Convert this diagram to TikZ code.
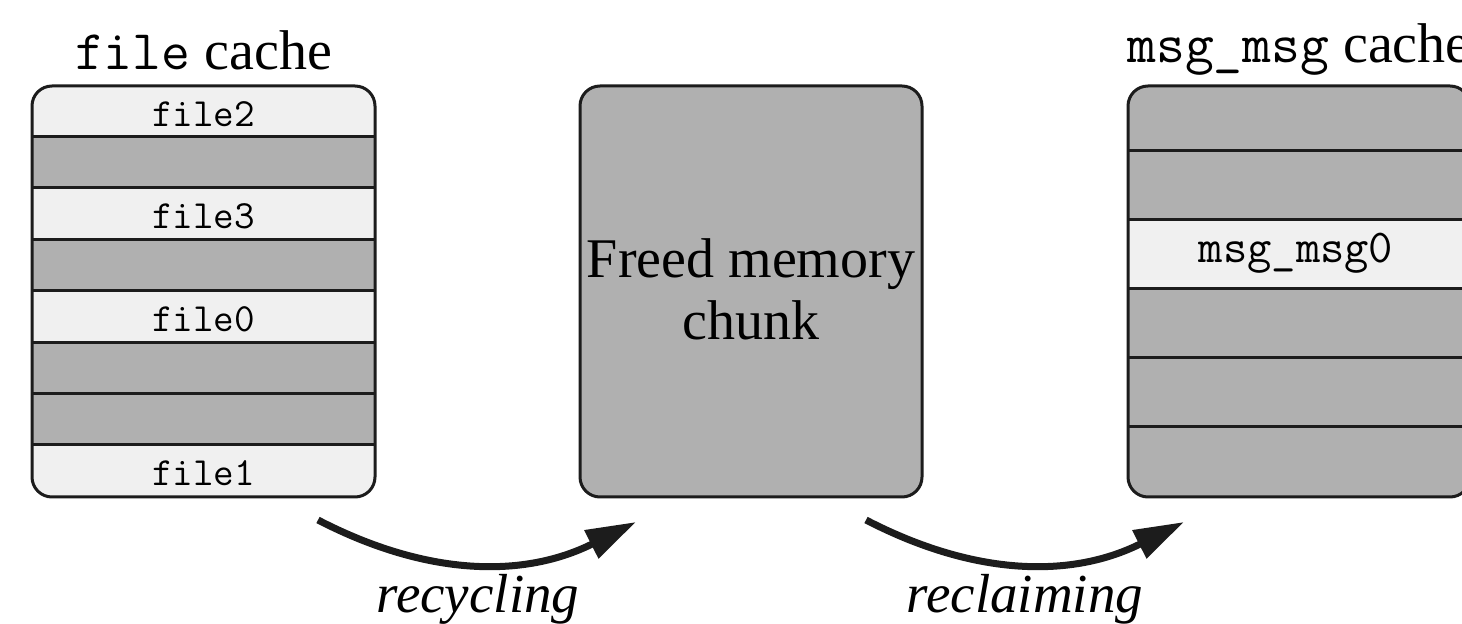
\documentclass[tikz,border=0pt]{standalone}
\usepackage{fontspec}
\setmainfont{Liberation Serif}
\usetikzlibrary{arrows.meta}
\definecolor{lightrow}{HTML}{F0F0F0}
\definecolor{darkrow}{HTML}{B0B0B0}
\definecolor{edgecol}{HTML}{1C1C1C}
\begin{document}
\begin{tikzpicture}[x=0.5pt,y=-0.5pt,
  frame/.style={draw=edgecol,line width=1.5pt,rounded corners=10pt,inner sep=0pt,outer sep=0pt},
  sep/.style={draw=edgecol,line width=1.5pt},
  celltext/.style={anchor=base,inner sep=0pt,font=\ttfamily\fontsize{20}{24}\selectfont},
  bigcell/.style={anchor=base,inner sep=0pt,font=\ttfamily\fontsize{23.6}{28}\selectfont},
  title/.style={anchor=base,inner sep=0pt,font=\fontsize{28}{32}\selectfont},
  arrowlab/.style={anchor=base,inner sep=0pt,font=\itshape\fontsize{27.5}{32}\selectfont},
  bigarrow/.style={draw=edgecol,line width=3.5pt,-{Triangle[length=25pt,width=15pt]},bend right=27}]
\useasboundingbox (0,0) rectangle (1462,624);

% ---------- file cache ----------
\begin{scope}
\clip[rounded corners=10pt] (32,86) rectangle (375,497);
\fill[lightrow] (32,86) rectangle (375,137);
\fill[darkrow]  (32,137) rectangle (375,188);
\fill[lightrow] (32,188) rectangle (375,240);
\fill[darkrow]  (32,240) rectangle (375,291);
\fill[lightrow] (32,291) rectangle (375,343);
\fill[darkrow]  (32,343) rectangle (375,445);
\fill[lightrow] (32,445) rectangle (375,497);
\end{scope}
\foreach \yy in {137,188,240,291,343,394,445}
  \draw[sep] (32,\yy) -- (375,\yy);
\draw[frame] (32,86) rectangle (375,497);
\node[title] (filetitle) at (203.5,70) {\texttt{file} cache};
\node[celltext] (file2) at (203.5,127) {file2};
\node[celltext] (file3) at (203.5,229) {file3};
\node[celltext] (file0) at (203.5,332) {file0};
\node[celltext] (file1) at (203.5,486) {file1};

% ---------- freed chunk ----------
\node[frame,fill=darkrow,minimum width=171pt,minimum height=205.5pt] (freed) at (751,291.5) {};
\node[title,anchor=base] (freedtxt) at (751,278) {Freed memory};
\node[title,anchor=base] (chunktxt) at (751,340) {chunk};

% ---------- msg_msg cache ----------
\begin{scope}
\clip[rounded corners=10pt] (1128,86) rectangle (1470,497);
\fill[darkrow]  (1128,86) rectangle (1470,220);
\fill[lightrow] (1128,220) rectangle (1470,289);
\fill[darkrow]  (1128,289) rectangle (1470,497);
\end{scope}
\foreach \yy in {151,220,289,358,427}
  \draw[sep] (1128,\yy) -- (1470,\yy);
\draw[frame] (1128,86) rectangle (1470,497);
\node[title] (msgtitle) at (1299,63) {\texttt{msg\_msg} cache};
\node[bigcell] (msg0) at (1296,263) {msg\_msg0};

% ---------- arrows ----------
\coordinate (r1s) at (318,520);
\coordinate (r1e) at (636,522);
\coordinate (r2s) at (866,520);
\coordinate (r2e) at (1184,522);
\draw[bigarrow] (r1s) to (r1e);
\draw[bigarrow] (r2s) to (r2e);
\node[arrowlab] (recyc) at (478,613) {recycling};
\node[arrowlab] (reclaim) at (1025,613) {reclaiming};
\end{tikzpicture}
\end{document}
